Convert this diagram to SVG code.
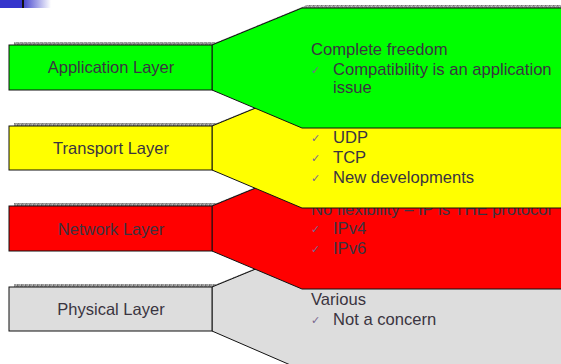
<svg xmlns="http://www.w3.org/2000/svg" width="561" height="364" viewBox="0 0 561 364">
<defs>
<linearGradient id="fade" x1="0" y1="0" x2="1" y2="0">
<stop offset="0" stop-color="#4a4ad0"/>
<stop offset="1" stop-color="#ffffff"/>
</linearGradient>
<pattern id="grain" width="4" height="4" patternUnits="userSpaceOnUse">
<rect width="4" height="4" fill="#9a9a9a"/>
<rect x="0" y="0" width="1" height="1" fill="#6e6e6e"/>
<rect x="2" y="1" width="1" height="1" fill="#c4c4c4"/>
<rect x="1" y="2" width="1" height="1" fill="#7a7a7a"/>
<rect x="3" y="3" width="1" height="1" fill="#bdbdbd"/>
<rect x="3" y="0" width="1" height="1" fill="#b0b0b0"/>
<rect x="0" y="3" width="1" height="1" fill="#808080"/>
</pattern>
<style>
.shadow{fill:url(#grain);stroke:none}
.shape{stroke:#111;stroke-width:1}
.lbl{font-family:"Liberation Sans",Arial,sans-serif;font-size:16.5px;fill:#3a3440;text-anchor:middle}
.txt{font-family:"Liberation Sans",Arial,sans-serif;font-size:16.6px;fill:#3a3440}
.chk{font-family:"DejaVu Sans",sans-serif;font-size:11px;fill:#7a6890}
</style>
</defs>
<rect width="561" height="364" fill="#ffffff"/>
<rect x="0" y="0" width="22" height="8" fill="#3535cc"/>
<rect x="24" y="0" width="27" height="8" fill="url(#fade)"/>
<rect x="22" y="0" width="2" height="8" fill="#111"/>

<g id="physical">
<g class="shadow" transform="translate(5,-3)">
<rect x="9" y="287" width="203" height="44"/>
<polygon points="212,287 302,250 566,250 566,370 302,370 212,331"/>
</g>
<polygon class="shape" fill="#dddddd" points="212,287 302,250 566,250 566,370 302,370 212,331"/>
<rect class="shape" fill="#dddddd" x="9" y="287" width="203" height="44"/>
<text class="lbl" x="111" y="315">Physical Layer</text>
<text class="txt" x="311" y="305">Various</text>
<text class="chk" x="311" y="324">✓</text>
<text class="txt" x="333" y="325">Not a concern</text>
</g>

<g id="network">
<g class="shadow" transform="translate(5,-3)">
<rect x="9" y="206" width="203" height="45"/>
<polygon points="212,206 302,169 566,169 566,289 302,289 212,251"/>
</g>
<polygon class="shape" fill="#ff0000" points="212,206 302,169 566,169 566,289 302,289 212,251"/>
<rect class="shape" fill="#ff0000" x="9" y="206" width="203" height="45"/>
<text class="lbl" x="111" y="235">Network Layer</text>
<text class="txt" x="311" y="215">No flexibility – IP is THE protocol</text>
<text class="chk" x="311" y="233">✓</text>
<text class="txt" x="333" y="234">IPv4</text>
<text class="chk" x="311" y="253">✓</text>
<text class="txt" x="333" y="254">IPv6</text>
</g>

<g id="transport">
<g class="shadow" transform="translate(5,-3)">
<rect x="9" y="126" width="203" height="44"/>
<polygon points="212,126 302,89 566,89 566,208 302,208 212,170"/>
</g>
<polygon class="shape" fill="#ffff00" points="212,126 302,89 566,89 566,208 302,208 212,170"/>
<rect class="shape" fill="#ffff00" x="9" y="126" width="203" height="44"/>
<text class="lbl" x="111" y="154">Transport Layer</text>
<text class="chk" x="311" y="142">✓</text>
<text class="txt" x="333" y="143">UDP</text>
<text class="chk" x="311" y="162">✓</text>
<text class="txt" x="333" y="163">TCP</text>
<text class="chk" x="311" y="182">✓</text>
<text class="txt" x="333" y="183">New developments</text>
</g>

<g id="application">
<g class="shadow" transform="translate(5,-3)">
<rect x="9" y="45" width="203" height="45"/>
<polygon points="212,45 302,8 566,8 566,128 302,128 212,90"/>
</g>
<polygon class="shape" fill="#00ff00" points="212,45 302,8 566,8 566,128 302,128 212,90"/>
<rect class="shape" fill="#00ff00" x="9" y="45" width="203" height="45"/>
<text class="lbl" x="111" y="73">Application Layer</text>
<text class="txt" x="311" y="55">Complete freedom</text>
<text class="chk" x="311" y="74">✓</text>
<text class="txt" x="333" y="74.5">Compatibility is an application</text>
<text class="txt" x="333" y="93">issue</text>
</g>

<g id="connectors"/>
</svg>
